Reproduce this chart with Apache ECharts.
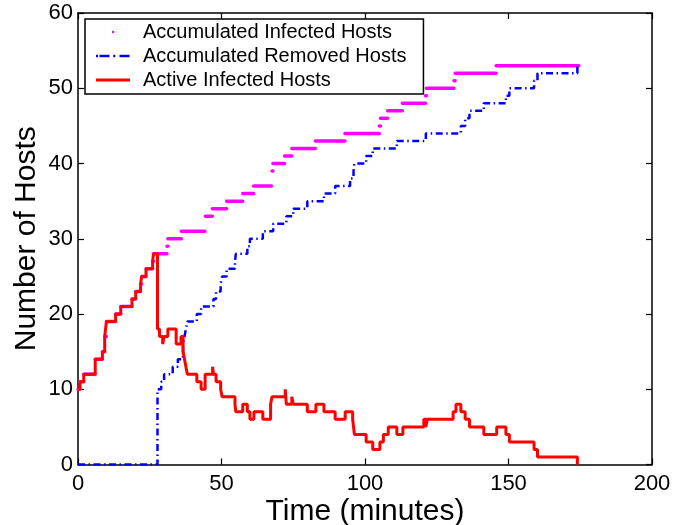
<!DOCTYPE html>
<html>
<head>
<meta charset="utf-8">
<script src="https://cdn.jsdelivr.net/npm/echarts/dist/echarts.min.js"></script>
<style>
  html, body { margin: 0; padding: 0; background: #fff; }
  #chart { width: 690px; height: 525px; }
</style>
</head>
<body>
<div id="chart"></div>
<script>
// ---- data ----
const xTicks = [0, 50, 100, 150, 200];
const yTicks = [0, 10, 20, 30, 40, 50, 60];

const seriesNames = ['Accumulated Infected Hosts', 'Accumulated Removed Hosts', 'Active Infected Hosts'];

// Accumulated infected hosts: level infectedV[i] holds from infectedT[i] to infectedT[i+1]
const infectedT = [0, 0.7, 2.0, 6.0, 8.5, 9.3, 9.9, 13.1, 14.9, 18.8, 20.1, 21.8, 22.2, 23.7, 26.0, 26.3,
  31.0, 31.3, 36.0, 44.2, 44.4, 46.8, 51.8, 57.4, 61.2, 67.4, 67.6, 67.9, 72.0, 74.5, 82.7, 93.0,
  105.0, 105.4, 107.9, 113.0, 121.1, 121.4, 131.0, 131.4, 145.7, 174.5];
const infectedV = [10, 11, 12, 14, 15, 17, 19, 20, 21, 22, 23, 24, 25, 26, 27, 28,
  29, 30, 31, 32, 33, 34, 35, 36, 37, 38, 39, 40, 41, 42, 43, 44,
  45, 46, 47, 48, 49, 50, 51, 52, 53, 53];

// Accumulated removed hosts (step changes)
const removedT = [0, 27.7, 29.0, 30.0, 33.0, 34.8, 36.6, 37.1, 37.6, 38.1, 41.4, 42.9, 47.2, 48.1, 49.7,
  50.2, 51.8, 54.7, 55.0, 59.0, 59.9, 64.4, 68.0, 72.6, 75.0, 79.9, 85.7, 89.6, 94.8, 96.0,
  96.3, 100.4, 102.7, 111.1, 121.2, 133.4, 134.9, 136.4, 141.4, 149.1, 150.3, 158.9, 160.1, 174.0];
const removedV = [0, 10, 11, 12, 13, 14, 16, 17, 18, 19, 20, 21, 22, 23, 24,
  25, 26, 27, 28, 29, 30, 31, 32, 33, 34, 35, 36, 37, 38, 39,
  40, 41, 42, 43, 44, 45, 46, 47, 48, 49, 50, 51, 52, 53];

// Active infected hosts (step changes)
const activeT = [0, 0.7, 2.0, 6.0, 8.5, 9.3, 9.9, 13.1, 14.9, 18.8, 20.1, 21.8, 22.2, 23.7, 26.0,
  26.3, 27.7, 28.4, 29.5, 30.0, 31.3, 34.2, 35.9, 36.6, 37.1, 37.6, 38.1, 41.4, 42.9, 44.3,
  46.9, 47.2, 48.1, 49.7, 50.2, 54.7, 55.0, 57.4, 59.0, 59.9, 61.3, 64.4, 67.1, 67.6, 72.2,
  72.6, 74.5, 75.0, 79.9, 82.9, 85.7, 89.6, 93.1, 95.7, 96.0, 96.3, 100.4, 102.7, 105.2, 106.4,
  108.1, 111.1, 113.2, 120.5, 121.2, 121.7, 130.7, 131.7, 133.4, 134.9, 136.4, 141.4, 145.9, 149.1, 150.3,
  158.9, 160.1, 174.0];
const activeV = [10, 11, 12, 14, 15, 17, 19, 20, 21, 22, 23, 24, 25, 26, 27,
  28, 18, 17, 16, 17, 18, 16, 17, 15, 14, 13, 12, 11, 10, 12,
  13, 12, 11, 10, 9, 8, 7, 8, 7, 6, 7, 6, 8, 9, 10,
  8, 9, 8, 7, 8, 7, 6, 7, 6, 5, 4, 3, 2, 3, 4,
  5, 4, 5, 6, 5, 6, 7, 8, 7, 6, 5, 4, 5, 4, 3,
  2, 1, 0];

// ---- build series data ----
const infectedData = [];
for (let i = 0; i < infectedT.length - 1; i++) {
  infectedData.push([infectedT[i], infectedV[i]]);
  infectedData.push([infectedT[i + 1], infectedV[i]]);
  infectedData.push([infectedT[i + 1], null]);
}
const removedData = removedT.map((t, i) => [t, removedV[i]]);
const activeData = activeT.map((t, i) => [t, activeV[i]]);

const FONT = '"Liberation Sans", Helvetica, Arial, sans-serif';
const xMin = xTicks[0], xMax = xTicks[xTicks.length - 1], xInt = xTicks[1] - xTicks[0];
const yMin = yTicks[0], yMax = yTicks[yTicks.length - 1], yInt = yTicks[1] - yTicks[0];

const axisLine = { show: true, onZero: false, lineStyle: { color: '#000', width: 1.5 } };
const axisTick = { show: true, inside: true, length: 6, lineStyle: { color: '#000', width: 1.2 } };

const chart = echarts.init(document.getElementById('chart'), null, { renderer: 'canvas' });
chart.setOption({
  animation: false,
  backgroundColor: '#fff',
  grid: { left: 78, right: 38, top: 13, bottom: 60.5, containLabel: false, outerBoundsMode: 'none' },
  legend: {
    orient: 'vertical',
    left: 85, top: 19,
    padding: [1, 17, 2, 11],
    backgroundColor: '#fff',
    borderColor: '#000', borderWidth: 1.5, borderRadius: 0,
    itemWidth: 42, itemHeight: 4, itemGap: 0,
    selectedMode: false,
    itemStyle: { borderWidth: 0 },
    textStyle: { fontSize: 20, lineHeight: 24, color: '#000', fontFamily: FONT },
    data: [
      { name: seriesNames[0], icon: 'path://M0,0 M42,4 M15.8,2 a1.2,1.2 0 1,0 2.4,0 a1.2,1.2 0 1,0 -2.4,0 Z' },
      { name: seriesNames[1], icon: 'path://M0,0 M42,4 M0,0.8 h2 v2.4 h-2 Z M3.5,0.8 h10 v2.4 h-10 Z M17.3,0.8 h2 v2.4 h-2 Z M23.5,0.8 h10 v2.4 h-10 Z' },
      { name: seriesNames[2], icon: 'path://M0,0 M42,4 M0,0.5 h34 v3 h-34 Z' }
    ]
  },
  xAxis: [
    {
      type: 'value', min: xMin, max: xMax, interval: xInt, position: 'bottom',
      axisLine, axisTick,
      axisLabel: { fontSize: 22, color: '#000', margin: 8, fontFamily: FONT },
      splitLine: { show: false },
      name: 'Time (minutes)', nameLocation: 'middle', nameGap: 32, nameMoveOverlap: false,
      nameTextStyle: { fontSize: 30, color: '#000', fontFamily: FONT }
    },
    {
      type: 'value', min: xMin, max: xMax, interval: xInt, position: 'top',
      axisLine, axisTick, axisLabel: { show: false }, splitLine: { show: false }
    }
  ],
  yAxis: [
    {
      type: 'value', min: yMin, max: yMax, interval: yInt, position: 'left',
      axisLine, axisTick,
      axisLabel: { fontSize: 22, color: '#000', margin: 5, fontFamily: FONT },
      splitLine: { show: false },
      name: 'Number of Hosts', nameLocation: 'middle', nameGap: 36, nameRotate: 90, nameMoveOverlap: false,
      nameTextStyle: { fontSize: 30, color: '#000', fontFamily: FONT }
    },
    {
      type: 'value', min: yMin, max: yMax, interval: yInt, position: 'right',
      axisLine, axisTick, axisLabel: { show: false }, splitLine: { show: false }
    }
  ],
  series: [
    {
      name: seriesNames[0], type: 'line', xAxisIndex: 0, yAxisIndex: 0,
      data: infectedData, showSymbol: false, symbol: 'none', connectNulls: false,
      itemStyle: { color: '#ff00ff' },
      lineStyle: { color: '#ff00ff', width: 3.5, cap: 'round' },
      z: 2
    },
    {
      name: seriesNames[1], type: 'line', xAxisIndex: 0, yAxisIndex: 0,
      data: removedData, step: 'end', showSymbol: false, symbol: 'none',
      itemStyle: { color: '#0000ff' },
      lineStyle: { color: '#0000ff', width: 2.5, type: [7, 3.5, 1.5, 3.5] },
      z: 3
    },
    {
      name: seriesNames[2], type: 'line', xAxisIndex: 0, yAxisIndex: 0,
      data: activeData, step: 'end', showSymbol: false, symbol: 'none',
      itemStyle: { color: '#ff0000' },
      lineStyle: { color: '#ff0000', width: 3 },
      z: 4
    }
  ]
});
</script>
</body>
</html>
